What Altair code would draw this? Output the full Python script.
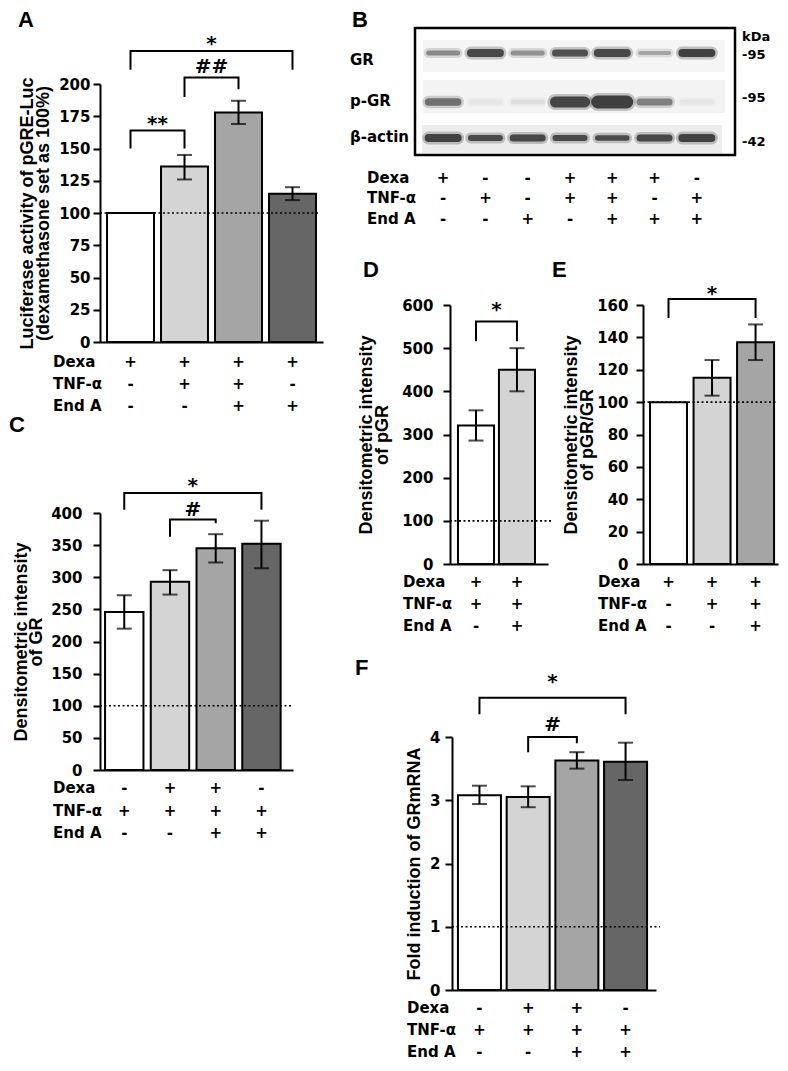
import altair as alt
import pandas as pd

LAB_FONT = "DejaVu Sans"
TIT_FONT = "Liberation Sans"
CW, CH = 772, 1055

BAR_COLORS = ["#ffffff", "#d4d4d4", "#a5a5a5", "#666666"]
ROW_NAMES = ["Dexa", "TNF-α", "End A"]

# ---------------- Panel A ----------------
A_cats = ["a1", "a2", "a3", "a4"]
A_mean = [100, 136, 178, 115]
A_lo = [None, 126, 169, 110]
A_hi = [None, 145, 187, 120]
A_dexa = ["+", "+", "+", "+"]
A_tnf = ["-", "+", "+", "-"]
A_enda = ["-", "-", "+", "+"]
A_yticks = [0, 25, 50, 75, 100, 125, 150, 175, 200]
A_title = ["Luciferase activity of pGRE-Luc", "(dexamethasone set as 100%)"]
A_sig = [("a1", "a2", 164, 150, 150, "**", 174),
         ("a2", "a3", 205, 190, 196, "##", 213),
         ("a1", "a4", 225.5, 211, 211, "*", 236)]

# ---------------- Panel C ----------------
C_cats = ["c1", "c2", "c3", "c4"]
C_mean = [246, 293, 345, 352]
C_lo = [220, 273, 323, 314]
C_hi = [272, 311, 367, 388]
C_dexa = ["-", "+", "+", "-"]
C_tnf = ["+", "+", "+", "+"]
C_enda = ["-", "-", "+", "+"]
C_yticks = [0, 50, 100, 150, 200, 250, 300, 350, 400]
C_title = ["Densitometric intensity", "of GR"]
C_sig = [("c1", "c4", 431, 405, 405, "*", 451),
         ("c2", "c3", 390, 363, 384, "#", 405)]

# ---------------- Panel D ----------------
D_cats = ["d1", "d2"]
D_mean = [321, 450]
D_lo = [286, 400]
D_hi = [356, 500]
D_dexa = ["+", "+"]
D_tnf = ["+", "+"]
D_enda = ["-", "+"]
D_yticks = [0, 100, 200, 300, 400, 500, 600]
D_title = ["Densitometric intensity", "of pGR"]
D_sig = [("d1", "d2", 562, 516, 516, "*", 602)]

# ---------------- Panel E ----------------
E_cats = ["e1", "e2", "e3"]
E_mean = [100, 115, 137]
E_lo = [None, 104, 126]
E_hi = [None, 126, 148]
E_dexa = ["+", "+", "+"]
E_tnf = ["-", "+", "+"]
E_enda = ["-", "-", "+"]
E_yticks = [0, 20, 40, 60, 80, 100, 120, 140, 160]
E_title = ["Densitometric intensity", "of pGR/GR"]
E_sig = [("e1", "e3", 163.7, 152, 152, "*", 170.3)]

# ---------------- Panel F ----------------
F_cats = ["f1", "f2", "f3", "f4"]
F_mean = [3.08, 3.05, 3.63, 3.61]
F_lo = [2.94, 2.89, 3.50, 3.32]
F_hi = [3.23, 3.22, 3.76, 3.91]
F_dexa = ["-", "+", "+", "-"]
F_tnf = ["+", "+", "+", "+"]
F_enda = ["-", "-", "+", "+"]
F_yticks = [0, 1, 2, 3, 4]
F_title = "Fold induction of GRmRNA"
F_sig = [("f1", "f4", 4.62, 4.36, 4.36, "*", 4.96),
         ("f2", "f3", 4.0, 3.76, 3.90, "#", 4.19)]

# ---------------- Panel B (western blot) ----------------
B_lanes = ["l1", "l2", "l3", "l4", "l5", "l6", "l7"]
B_rows = ["GR", "p-GR", "β-actin"]
B_GR = [0.55, 0.95, 0.5, 0.9, 0.95, 0.4, 1.0]
B_GR_w = [4, 7, 4, 6, 7, 3, 7]
B_pGR = [0.7, 0.06, 0.1, 0.97, 1.0, 0.6, 0.06]
B_pGR_w = [6.5, 4, 4, 10, 12, 6, 4]
B_act = [0.98, 0.93, 0.95, 0.93, 0.92, 0.95, 0.98]
B_act_w = [7, 5, 6, 5, 4.5, 6, 7]
B_dexa = ["+", "-", "-", "+", "+", "+", "-"]
B_tnf = ["-", "+", "-", "+", "+", "-", "+"]
B_enda = ["-", "-", "+", "-", "+", "+", "+"]
B_kda = ["kDa", "-95", "-95", "-42"]


def txt(size=15, **kw):
    d = dict(font=LAB_FONT, fontWeight="bold", fontSize=size, color="black")
    d.update(kw)
    return d


def letter_layer(letter, lx, ly, base="alphabetic"):
    return alt.Chart(pd.DataFrame({"t": [letter]})).mark_text(
        font=TIT_FONT, fontWeight="bold", fontSize=22, color="black",
        align="left", baseline=base
    ).encode(x=alt.value(lx), y=alt.value(ly), text="t:N")


def bar_panel(cats, mean, lo, hi, signs, yticks, ydom, ref, sig, title, L):
    n = len(cats)
    x0, x1 = L["xr"]
    step = (x1 - x0) / (n - L["pi"] + 2 * L["po"])
    xs = alt.Scale(type="band", domain=cats, range=[x0, x1],
                   paddingInner=L["pi"], paddingOuter=L["po"], align=L["al"])
    ys = alt.Scale(type="linear", domain=ydom, range=L["yr"], nice=False)
    xaxis = alt.Axis(orient="bottom", offset=-(CH - L["yr"][0]), labels=False,
                     ticks=False, title=None, domainWidth=2, domainColor="black")
    yaxis = alt.Axis(orient="left", offset=-x0, values=yticks, title=title,
                     labelPadding=L["lp"], titlePadding=L["tp"],
                     titleLineHeight=L["tlh"])

    def X():
        return alt.X("cat:N", scale=xs, axis=xaxis)

    def Y(field):
        return alt.Y(field, type="quantitative", scale=ys, axis=yaxis)

    layers = []
    df = pd.DataFrame({"cat": cats, "mean": mean, "col": BAR_COLORS[:n]})
    layers.append(alt.Chart(df).mark_bar(stroke="black", strokeWidth=2).encode(
        x=X(), y=Y("mean"), fill=alt.Fill("col:N", scale=None)))

    e = pd.DataFrame({"cat": cats, "lo": lo, "hi": hi}).dropna()
    layers.append(alt.Chart(e).mark_rule(color="black", strokeWidth=2).encode(
        x=X(), y=Y("lo"), y2=alt.Y2("hi")))
    caps = pd.DataFrame({"cat": list(e["cat"]) * 2,
                         "v": list(e["lo"]) + list(e["hi"])})
    layers.append(alt.Chart(caps).mark_tick(orient="horizontal", color="black",
                                            size=15, thickness=2).encode(x=X(), y=Y("v")))

    layers.append(alt.Chart(pd.DataFrame({"v": [ref]})).mark_rule(
        color="black", strokeWidth=1.6, strokeDash=[2, 2.5]).encode(
        y=Y("v"), x=alt.value(x0), x2=alt.value(L["refx2"])))

    rows = []
    for k, (a, b, top, la, lb, lab, ly) in enumerate(sig):
        rows += [dict(k=k, o=0, cat=a, v=la), dict(k=k, o=1, cat=a, v=top),
                 dict(k=k, o=2, cat=b, v=top), dict(k=k, o=3, cat=b, v=lb)]
    layers.append(alt.Chart(pd.DataFrame(rows)).mark_line(
        color="black", strokeWidth=2).encode(x=X(), y=Y("v"),
                                             detail="k:N", order="o:Q"))
    for (a, b, top, la, lb, lab, ly) in sig:
        dx = (cats.index(b) - cats.index(a)) * step / 2
        dy = 6 if "*" in lab else 0
        layers.append(alt.Chart(pd.DataFrame({"cat": [a], "v": [ly], "t": [lab]})).mark_text(
            **txt(20), dx=dx, dy=dy, baseline="middle").encode(
            x=X(), y=Y("v"), text="t:N"))

    for r, (name, vals) in enumerate(zip(ROW_NAMES, signs)):
        yv = L["rows_y"][r]
        layers.append(alt.Chart(pd.DataFrame({"cat": cats, "s": vals})).mark_text(
            **txt(15), baseline="middle").encode(x=X(), y=alt.value(yv), text="s:N"))
        layers.append(alt.Chart(pd.DataFrame({"t": [name]})).mark_text(
            **txt(15), baseline="middle", align="left").encode(
            x=alt.value(L["rowx"]), y=alt.value(yv), text="t:N"))
    layers.append(letter_layer(*L["letter"]))
    return alt.layer(*layers)


LA = dict(xr=[92, 315], pi=0.13, po=0.13, al=0.5, yr=[334, 76], lp=3, tp=6, tlh=16,
          refx2=312, rows_y=[354, 376, 398], rowx=45, letter=("A", 10, 2, "top"))
LC = dict(xr=[92, 285], pi=0.16, po=0.19, al=0.29, yr=[762, 505], lp=11, tp=5, tlh=15,
          refx2=285, rows_y=[780, 803, 825], rowx=45, letter=("C", 1, 424))
LD = dict(xr=[442, 540], pi=0.12, po=0.256, al=0.38, yr=[556, 297], lp=10, tp=10, tlh=16,
          refx2=544, rows_y=[574, 596, 618], rowx=395, letter=("D", 355, 269))
LE = dict(xr=[635, 770], pi=0.15, po=0.126, al=0.64, yr=[556, 297], lp=8, tp=0, tlh=16,
          refx2=770, rows_y=[574, 596, 618], rowx=590, letter=("E", 544, 269))
LF = dict(xr=[444, 648], pi=0.117, po=0.153, al=0.4, yr=[982, 729], lp=5, tp=6, tlh=16,
          refx2=652, rows_y=[1000, 1022, 1044], rowx=399, letter=("F", 347, 667))

pA = bar_panel(A_cats, A_mean, A_lo, A_hi, [A_dexa, A_tnf, A_enda], A_yticks, [0, 200], 100, A_sig, A_title, LA)
pC = bar_panel(C_cats, C_mean, C_lo, C_hi, [C_dexa, C_tnf, C_enda], C_yticks, [0, 400], 100, C_sig, C_title, LC)
pD = bar_panel(D_cats, D_mean, D_lo, D_hi, [D_dexa, D_tnf, D_enda], D_yticks, [0, 600], 100, D_sig, D_title, LD)
pE = bar_panel(E_cats, E_mean, E_lo, E_hi, [E_dexa, E_tnf, E_enda], E_yticks, [0, 160], 100, E_sig, E_title, LE)
pF = bar_panel(F_cats, F_mean, F_lo, F_hi, [F_dexa, F_tnf, F_enda], F_yticks, [0, 4], 1, F_sig, F_title, LF)

# ---------------- Panel B build ----------------
xb = alt.Scale(type="band", domain=B_lanes, range=[414, 710], paddingInner=0, paddingOuter=0)
gray = alt.Scale(domain=[0, 1], range=["#f3f3f3", "#0a0a0a"])
B_layers = []
strips = [(32, 64, 415, 717, "#f5f5f5"), (72, 105, 415, 717, "#f3f3f3"), (117, 145, 414, 714, "#ececec")]
for (y0, y1, sx0, sx1, c) in strips:
    B_layers.append(alt.Chart(pd.DataFrame({"a": [0]})).mark_rect(color=c).encode(
        x=alt.value(sx0), x2=alt.value(sx1), y=alt.value(y0), y2=alt.value(y1)))
row_y = [45, 94, 130]
for yc, ints, ws in zip(row_y, [B_GR, B_pGR, B_act], [B_GR_w, B_pGR_w, B_act_w]):
    d = pd.DataFrame({"lane": B_lanes, "i": ints, "w": ws})
    base = alt.Chart(d).transform_calculate(hw="datum.w + 5")
    B_layers.append(base.mark_tick(orient="horizontal", thickness=1, size=30, opacity=0.22,
                                   cornerRadius=2, filled=True).encode(
        x=alt.X("lane:N", scale=xb, axis=None), y=alt.value(yc),
        color=alt.Color("i:Q", scale=gray, legend=None),
        stroke=alt.Stroke("i:Q", scale=gray, legend=None),
        strokeWidth=alt.StrokeWidth("hw:Q", scale=None)))
    B_layers.append(base.mark_tick(orient="horizontal", thickness=1, size=30,
                                   cornerRadius=2, filled=True).encode(
        x=alt.X("lane:N", scale=xb, axis=None), y=alt.value(yc),
        color=alt.Color("i:Q", scale=gray, legend=None),
        stroke=alt.Stroke("i:Q", scale=gray, legend=None),
        strokeWidth=alt.StrokeWidth("w:Q", scale=None)))
B_layers.append(alt.Chart(pd.DataFrame({"a": [0]})).mark_rect(
    fillOpacity=0, stroke="black", strokeWidth=2.5).encode(
    x=alt.value(407), x2=alt.value(727), y=alt.value(20), y2=alt.value(147)))
for name, yv in zip(B_rows, [52, 93, 129]):
    B_layers.append(alt.Chart(pd.DataFrame({"t": [name]})).mark_text(
        **txt(15), align="left", baseline="middle").encode(
        x=alt.value(342), y=alt.value(yv), text="t:N"))
for name, yv in zip(B_kda, [29, 47, 90, 134]):
    B_layers.append(alt.Chart(pd.DataFrame({"t": [name]})).mark_text(
        **txt(13), align="left", baseline="middle").encode(
        x=alt.value(734), y=alt.value(yv), text="t:N"))
for r, (name, vals) in enumerate(zip(ROW_NAMES, [B_dexa, B_tnf, B_enda])):
    yv = [170, 190, 211][r]
    B_layers.append(alt.Chart(pd.DataFrame({"lane": B_lanes, "s": vals})).mark_text(
        **txt(15), baseline="middle").encode(
        x=alt.X("lane:N", scale=xb, axis=None), y=alt.value(yv), text="s:N"))
    B_layers.append(alt.Chart(pd.DataFrame({"t": [name]})).mark_text(
        **txt(15), baseline="middle", align="left").encode(
        x=alt.value(359), y=alt.value(yv), text="t:N"))
B_layers.append(letter_layer("B", 344, 2, "top"))
pB = alt.layer(*B_layers)

chart = alt.layer(pA, pB, pC, pD, pE, pF).resolve_scale(
    x="independent", y="independent", color="independent", fill="independent",
    stroke="independent"
).resolve_axis(x="independent", y="independent").properties(
    width=CW, height=CH, padding=0, autosize=alt.AutoSizeParams(type="none")
).configure_view(stroke=None).configure_axis(
    labelFont=LAB_FONT, labelFontSize=15, labelFontWeight="bold", labelColor="black",
    titleFont=TIT_FONT, titleFontSize=18, titleFontWeight="bold", titleColor="black",
    domainColor="black", domainWidth=2, tickColor="black", tickWidth=2, tickSize=7,
    grid=False, labelFlush=False, labelOverlap=False
)

chart.save("out.html", embed_options={"renderer": "svg", "actions": False})
